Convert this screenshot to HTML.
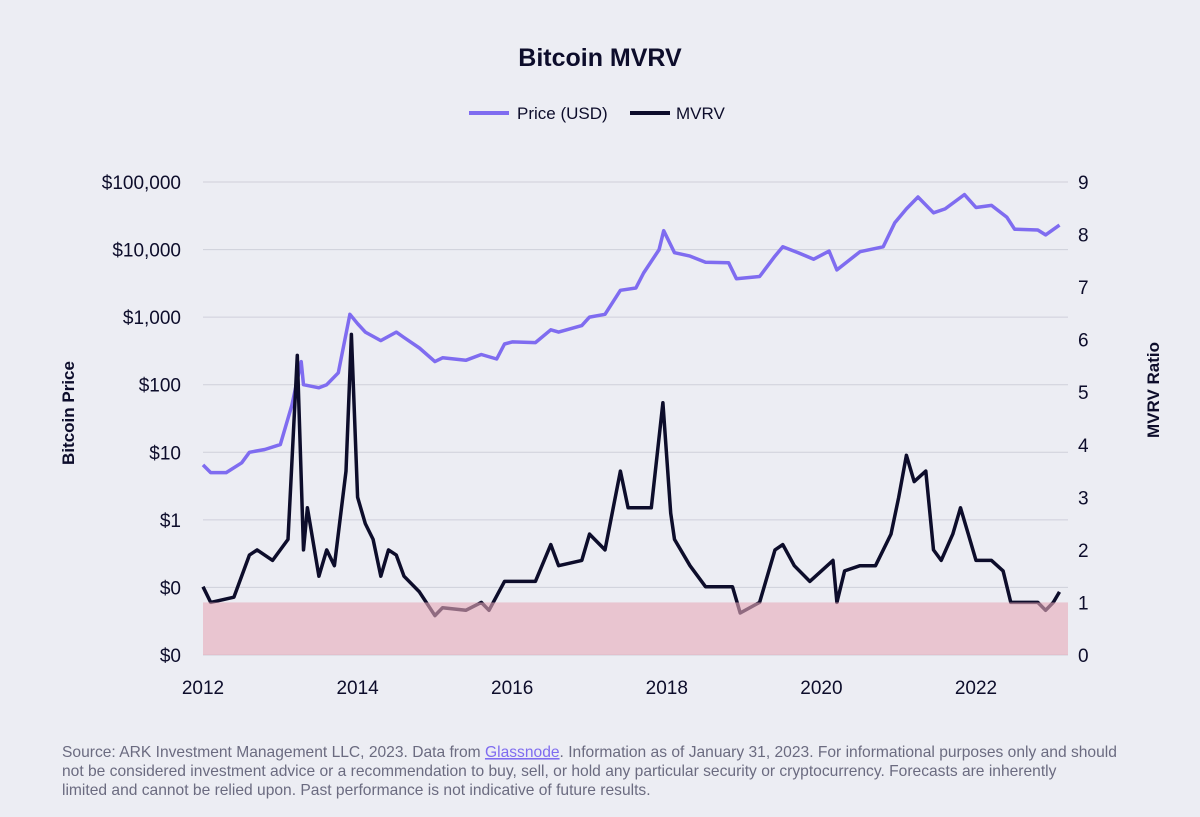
<!DOCTYPE html>
<html><head><meta charset="utf-8"><style>
html,body{margin:0;padding:0;background:#ecedf3;}
svg{display:block;font-family:"Liberation Sans",sans-serif;}
</style></head><body>
<svg id="chart" width="1200" height="817" viewBox="0 0 1200 817">
<rect width="1200" height="817" fill="#ecedf3"/>
<text x="600" y="66" text-anchor="middle" font-size="25" font-weight="bold" fill="#0d0d2b">Bitcoin MVRV</text>
<g>
<g><line x1="469" y1="113" x2="509" y2="113" stroke="#7f6cf0" stroke-width="4"/><text x="517" y="119" font-size="17" fill="#0d0d2b">Price (USD)</text></g>
<g><line x1="630" y1="113" x2="670" y2="113" stroke="#0d0d2b" stroke-width="4"/><text x="676" y="119" font-size="17" fill="#0d0d2b">MVRV</text></g>
</g>
<g id="grid"></g><g id="band"></g><g id="series"></g><g id="axes"></g>
<text transform="translate(74,413) rotate(-90)" text-anchor="middle" font-size="17" font-weight="bold" fill="#0d0d2b">Bitcoin Price</text>
<text transform="translate(1159,390) rotate(-90)" text-anchor="middle" font-size="17" font-weight="bold" fill="#0d0d2b">MVRV Ratio</text>
<g font-size="15.6" fill="#6b6b80">
<text x="62" y="757">Source: ARK Investment Management LLC, 2023. Data from <tspan fill="#7f6cf0" text-decoration="underline">Glassnode</tspan>. Information as of January 31, 2023. For informational purposes only and should</text>
<text x="62" y="776">not be considered investment advice or a recommendation to buy, sell, or hold any particular security or cryptocurrency. Forecasts are inherently</text>
<text x="62" y="795">limited and cannot be relied upon. Past performance is not indicative of future results.</text>
</g>
</svg>
<script>
const priceTicks=[100000,10000,1000,100,10,1,0.1,0.01];
const priceTickLabels=["$100,000","$10,000","$1,000","$100","$10","$1","$0","$0"];
const mvrvTicks=[0,1,2,3,4,5,6,7,8,9];
const yearTicks=[2012,2014,2016,2018,2020,2022];
const priceDates=[2012.0,2012.1,2012.3,2012.5,2012.6,2012.8,2013.0,2013.15,2013.27,2013.3,2013.5,2013.6,2013.75,2013.9,2014.0,2014.1,2014.3,2014.5,2014.6,2014.8,2015.0,2015.1,2015.4,2015.6,2015.8,2015.9,2016.0,2016.3,2016.5,2016.6,2016.9,2017.0,2017.2,2017.4,2017.6,2017.7,2017.9,2017.96,2018.1,2018.3,2018.5,2018.8,2018.9,2019.2,2019.4,2019.5,2019.7,2019.9,2020.1,2020.2,2020.5,2020.8,2020.95,2021.1,2021.25,2021.45,2021.6,2021.85,2022.0,2022.2,2022.4,2022.5,2022.8,2022.9,2023.08];
const priceValues=[6.5,5,5,7,10,11,13,50,220,100,90,100,150,1100,800,600,450,600,500,350,220,250,230,280,240,400,430,420,650,600,750,1000,1100,2500,2700,4500,10000,19000,9000,8000,6500,6400,3700,4000,8000,11000,9000,7200,9500,5000,9300,11000,25000,40000,60000,35000,40000,65000,42000,45000,30000,20000,19500,16500,23000];
const mvrvDates=[2012.0,2012.1,2012.4,2012.6,2012.7,2012.9,2013.1,2013.22,2013.3,2013.35,2013.5,2013.6,2013.7,2013.85,2013.92,2014.0,2014.1,2014.2,2014.3,2014.4,2014.5,2014.6,2014.8,2015.0,2015.1,2015.4,2015.6,2015.7,2015.9,2016.0,2016.3,2016.5,2016.6,2016.9,2017.0,2017.2,2017.4,2017.5,2017.6,2017.8,2017.95,2018.05,2018.1,2018.3,2018.5,2018.7,2018.85,2018.95,2019.2,2019.4,2019.5,2019.65,2019.85,2020.0,2020.15,2020.2,2020.3,2020.5,2020.7,2020.9,2021.0,2021.1,2021.2,2021.35,2021.45,2021.55,2021.7,2021.8,2021.9,2022.0,2022.2,2022.35,2022.45,2022.6,2022.8,2022.9,2023.0,2023.08];
const mvrvValues=[1.3,1.0,1.1,1.9,2.0,1.8,2.2,5.7,2.0,2.8,1.5,2.0,1.7,3.5,6.1,3.0,2.5,2.2,1.5,2.0,1.9,1.5,1.2,0.75,0.9,0.85,1.0,0.85,1.4,1.4,1.4,2.1,1.7,1.8,2.3,2.0,3.5,2.8,2.8,2.8,4.8,2.7,2.2,1.7,1.3,1.3,1.3,0.8,1.0,2.0,2.1,1.7,1.4,1.6,1.8,1.0,1.6,1.7,1.7,2.3,3.0,3.8,3.3,3.5,2.0,1.8,2.3,2.8,2.3,1.8,1.8,1.6,1.0,1.0,1.0,0.85,1.0,1.2];
const NS="http://www.w3.org/2000/svg";
const X0=203,X1=1068,Y0=655,YT=182;
const xS=d=>203+(d-2012)*77.3;
const yP=v=>YT+(5-Math.log10(v))*((Y0-YT)/7);
const yM=v=>Y0-v*((Y0-YT)/9);
function mk(tag,attrs,parent){const e=document.createElementNS(NS,tag);for(const k in attrs)e.setAttribute(k,attrs[k]);parent.appendChild(e);return e;}
const grid=document.getElementById('grid'),axes=document.getElementById('axes'),series=document.getElementById('series');
priceTicks.forEach((t,i)=>{
 const y=yP(t);
 const l=mk('line',{x1:X0,x2:X1,y1:y,y2:y,stroke:'#cfd0da','stroke-width':1},grid);
 
 
 const tx=mk('text',{x:181,y:y+7,'text-anchor':'end','font-size':19,fill:'#0d0d2b'},axes);
 tx.textContent=priceTickLabels[i];
 
 
});
mvrvTicks.forEach(t=>{
 const tx=mk('text',{x:1078,y:yM(t)+7,'font-size':19,fill:'#0d0d2b'},axes);
 tx.textContent=t;
 
 
});
yearTicks.forEach(t=>{
 const tx=mk('text',{x:xS(t),y:694,'text-anchor':'middle','font-size':19,fill:'#0d0d2b'},axes);
 tx.textContent=t;
 
 
});
function path(ds,vs,yf){return ds.map((d,i)=>(i?'L':'M')+xS(d).toFixed(1)+','+yf(vs[i]).toFixed(1)).join('');}
const pp=mk('path',{d:path(priceDates,priceValues,yP),fill:'none',stroke:'#7f6cf0','stroke-width':3.5,'stroke-linejoin':'round'},series);


const mp=mk('path',{d:path(mvrvDates,mvrvValues,yM),fill:'none',stroke:'#0d0d2b','stroke-width':3.5,'stroke-linejoin':'round'},series);


const b=mk('rect',{x:X0,y:yM(1),width:X1-X0,height:Y0-yM(1),fill:'rgba(232,170,185,0.6)'},series);


</script>
</body></html>
